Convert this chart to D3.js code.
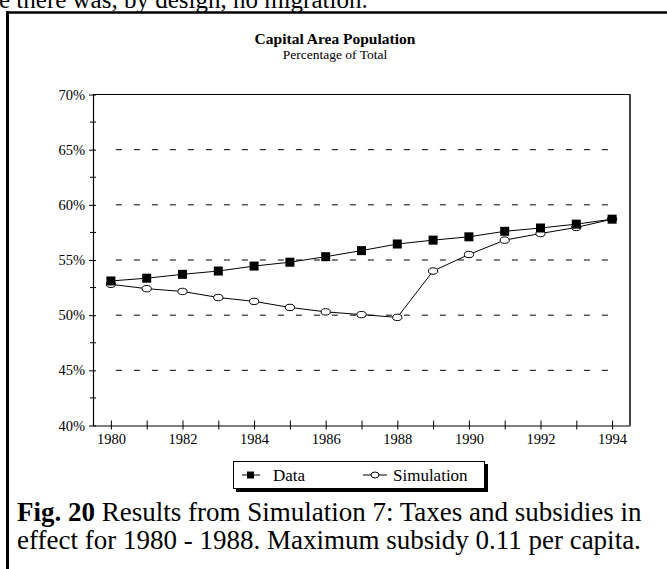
<!DOCTYPE html>
<html>
<head>
<meta charset="utf-8">
<script src="https://cdn.jsdelivr.net/npm/d3@7"></script>
<style>
  html, body { margin: 0; padding: 0; background: #fff; }
  svg { display: block; }
  text { font-family: "Liberation Serif", "Times New Roman", serif; fill: #000; }
</style>
</head>
<body>
<svg id="chart" width="667" height="569"></svg>
<script>
const years = [1980,1981,1982,1983,1984,1985,1986,1987,1988,1989,1990,1991,1992,1993,1994];
const dataValues = [53.1,53.35,53.7,54.0,54.45,54.8,55.3,55.85,56.45,56.8,57.1,57.6,57.9,58.25,58.7];
const simValues = [52.8,52.4,52.15,51.6,51.25,50.7,50.3,50.05,49.8,54.0,55.5,56.8,57.4,57.95,58.7];
const yTicks = [40,45,50,55,60,65,70];
const yMinorTicks = [42.5,47.5,52.5,57.5,62.5,67.5];
const gridValues = [45,50,55,60,65];
const xLabelYears = [1980,1982,1984,1986,1988,1990,1992,1994];

const FONT = "'Liberation Serif', 'Times New Roman', serif";
const svg = d3.select("#chart");

// Frame borders & clipped preceding text
svg.append("text").attr("x", -1).attr("y", 8).style("font-family", FONT).style("font-size", "25px")
  .text("e there was, by design, no migration.");
svg.append("line").attr("x1", 6).attr("x2", 667).attr("y1", 12.5).attr("y2", 12.5)
  .attr("stroke", "#000").attr("stroke-width", 2.5);
svg.append("line").attr("x1", 7.5).attr("x2", 7.5).attr("y1", 11.5).attr("y2", 569)
  .attr("stroke", "#000").attr("stroke-width", 3);

// Titles
svg.append("text").attr("x", 335).attr("y", 44).attr("text-anchor", "middle").style("font-family", FONT)
  .style("font-size", "15.5px").style("font-weight", "bold").text("Capital Area Population");
svg.append("text").attr("x", 335).attr("y", 59).attr("text-anchor", "middle").style("font-family", FONT)
  .style("font-size", "13.5px").text("Percentage of Total");

const L = 93, R = 630, T = 94.5, B = 425.5;
const x = d3.scaleLinear().domain([1979.5, 1994.5]).range([L, R]);
const y = d3.scaleLinear().domain([40, 70]).range([B, T]);

// gridlines
svg.append("g").selectAll("line").data(gridValues).join("line")
  .attr("x1", x(1980) + 5).attr("x2", x(1994) + 1)
  .attr("y1", d => y(d)).attr("y2", d => y(d))
  .attr("stroke", "#000").attr("stroke-width", 1).attr("stroke-dasharray", "6,12");

// plot box top and right
svg.append("line").attr("x1", L).attr("x2", R).attr("y1", T).attr("y2", T)
  .attr("stroke", "#000").attr("stroke-width", 1.2);
svg.append("line").attr("x1", R).attr("x2", R).attr("y1", T).attr("y2", B)
  .attr("stroke", "#000").attr("stroke-width", 1.5);

// Y axis
const yAxis = d3.axisLeft(y).tickValues(yTicks).tickFormat(d => d + "%").tickSizeInner(4).tickSizeOuter(0).tickPadding(4);
const gy = svg.append("g").attr("transform", `translate(${L},0)`).call(yAxis);
gy.attr("font-family", null);
gy.selectAll(".tick line").attr("x2", -4).attr("x1", 3);
gy.selectAll("text").style("font-size", "14.5px").style("font-family", FONT);
gy.select(".domain").attr("stroke-width", 1.2);
svg.append("g").selectAll("line").data(yMinorTicks).join("line")
  .attr("x1", L - 3).attr("x2", L + 3).attr("y1", d => y(d)).attr("y2", d => y(d))
  .attr("stroke", "#000");

// X axis
const xAxis = d3.axisBottom(x).tickValues(years).tickFormat(d => xLabelYears.includes(d) ? d : "")
  .tickSizeInner(3).tickSizeOuter(0).tickPadding(5);
const gx = svg.append("g").attr("transform", `translate(0,${B})`).call(xAxis);
gx.attr("font-family", null);
gx.selectAll(".tick line").attr("y1", -5).attr("y2", 4);
gx.selectAll("text").style("font-size", "14.5px").style("font-family", FONT);
gx.select(".domain").attr("stroke-width", 1.2);

// Lines
const line = d3.line().x((d, i) => x(years[i])).y(d => y(d));
svg.append("path").datum(simValues).attr("d", line).attr("fill", "none").attr("stroke", "#000").attr("stroke-width", 1);
svg.append("path").datum(dataValues).attr("d", line).attr("fill", "none").attr("stroke", "#000").attr("stroke-width", 1);

svg.append("g").selectAll("ellipse").data(simValues).join("ellipse")
  .attr("cx", (d, i) => x(years[i])).attr("cy", d => y(d)).attr("rx", 4.6).attr("ry", 3.2)
  .attr("fill", "#fff").attr("stroke", "#000").attr("stroke-width", 1);
svg.append("g").selectAll("rect").data(dataValues).join("rect")
  .attr("x", (d, i) => x(years[i]) - 4.5).attr("y", d => y(d) - 4.5).attr("width", 9).attr("height", 9)
  .attr("fill", "#000");

// Legend
const lg = svg.append("g");
lg.append("rect").attr("x", 236).attr("y", 464).attr("width", 252).attr("height", 28).attr("fill", "#000");
lg.append("rect").attr("x", 233.5).attr("y", 461.5).attr("width", 251).attr("height", 27)
  .attr("fill", "#fff").attr("stroke", "#000").attr("stroke-width", 1);
lg.append("line").attr("x1", 242).attr("x2", 260).attr("y1", 475).attr("y2", 475).attr("stroke", "#000");
lg.append("rect").attr("x", 247).attr("y", 471.5).attr("width", 7).attr("height", 7).attr("fill", "#000");
lg.append("text").attr("x", 273).attr("y", 481).style("font-family", FONT).style("font-size", "17px").text("Data");
lg.append("line").attr("x1", 363).attr("x2", 387).attr("y1", 475).attr("y2", 475).attr("stroke", "#000");
lg.append("ellipse").attr("cx", 375).attr("cy", 475).attr("rx", 4).attr("ry", 3).attr("fill", "#fff").attr("stroke", "#000");
lg.append("text").attr("x", 393).attr("y", 481).style("font-family", FONT).style("font-size", "17px").text("Simulation");

// Caption
const cap1 = svg.append("text").attr("x", 17).attr("y", 521).style("font-family", FONT).style("font-size", "27px");
cap1.append("tspan").style("font-weight", "bold").text("Fig. 20");
cap1.append("tspan").text(" Results from Simulation 7: Taxes and subsidies in");
svg.append("text").attr("x", 17).attr("y", 549).style("font-family", FONT).style("font-size", "27px")
  .text("effect for 1980 - 1988. Maximum subsidy 0.11 per capita.");
</script>
</body>
</html>
